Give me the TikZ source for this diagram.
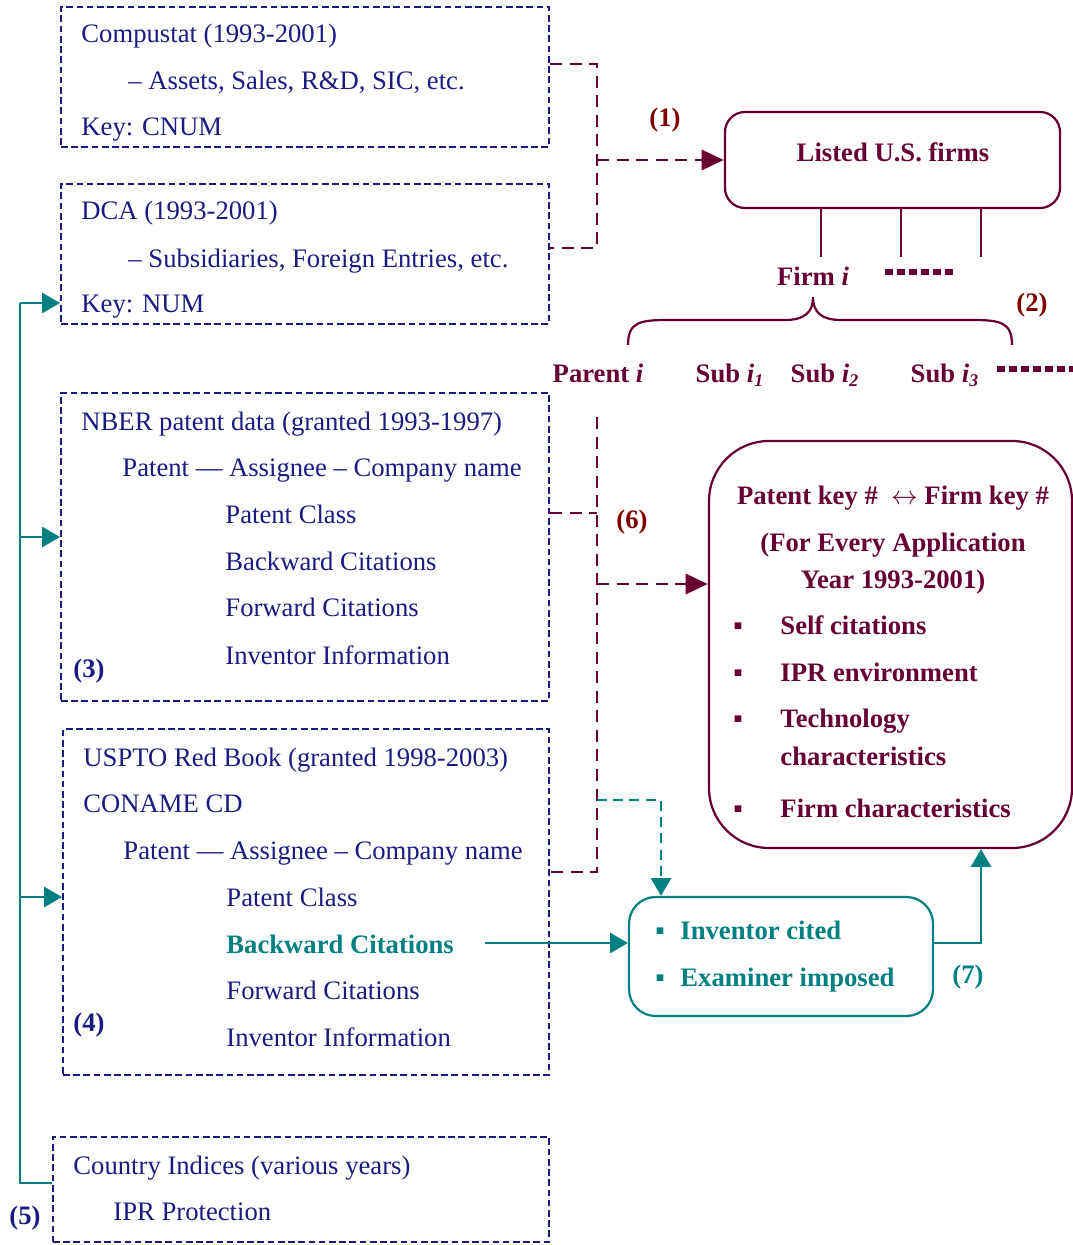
\documentclass[tikz,border=0pt]{standalone}
\usepackage{fontspec}
\setmainfont{Liberation Serif}
\usetikzlibrary{arrows.meta,fit}
\definecolor{navy}{RGB}{26,26,128}
\definecolor{wine}{RGB}{102,0,51}
\definecolor{brick}{RGB}{128,0,0}
\definecolor{sea}{RGB}{0,128,128}
\begin{document}
\begin{tikzpicture}[x=0.45pt,y=-0.45pt,
  every node/.style={font=\fontsize{12pt}{14pt}\selectfont},
  txt/.style={anchor=west,inner sep=0pt,text height=9pt,text depth=0pt,text=navy},
  lbl/.style={inner sep=0pt,text height=9pt,text depth=0pt,font=\fontsize{12pt}{14pt}\selectfont\bfseries},
  srcbox/.style={draw=navy,line width=0.9pt,dash pattern=on 3pt off 1.6pt,inner sep=0pt},
  mdash/.style={draw=wine,line width=1.3pt,dash pattern=on 5.4pt off 3.4pt},
  mline/.style={draw=wine,line width=1pt},
  tline/.style={draw=sea,line width=1.1pt},
  tdash/.style={tline,dash pattern=on 4.5pt off 2.8pt},
  mtip/.style={-{Triangle[length=10pt,width=9pt]}},
  ttip/.style={-{Triangle[length=8pt,width=9pt]}}]
\useasboundingbox (0,0) rectangle (1073,1245);

\node[srcbox,fit={(61,7) (549,147)}] (compu) {};
\node[txt] (compuA) at (81,33) {Compustat (1993-2001)};
\node[txt] (compuB) at (128,80) {– Assets, Sales, R\&D, SIC, etc.};
\node[txt] (compuC) at (81,126) {Key: CNUM};

\node[srcbox,fit={(61,184) (549,324)}] (dca) {};
\node[txt] (dcaA) at (81,210) {DCA (1993-2001)};
\node[txt] (dcaB) at (128,258) {– Subsidiaries, Foreign Entries, etc.};
\node[txt] (dcaC) at (81,303) {Key: NUM};

\node[srcbox,fit={(61,393) (549,701)}] (nber) {};
\node[txt] (nberA) at (81,420) {NBER patent data (granted 1993-1997)};
\node[txt] (nberB) at (122,466) {Patent — Assignee – Company name};
\node[txt] (nberC) at (225,513) {Patent Class};
\node[txt] (nberD) at (225,560) {Backward Citations};
\node[txt] (nberE) at (225,606) {Forward Citations};
\node[txt] (nberF) at (225,654) {Inventor Information};
\node[lbl,text=navy] (n3) at (89,667) {(3)};

\node[srcbox,fit={(63,729) (549,1075)}] (uspto) {};
\node[txt] (usptoA) at (83,756) {USPTO Red Book (granted 1998-2003)};
\node[txt] (usptoB) at (83,802) {CONAME CD};
\node[txt] (usptoC) at (123,849) {Patent — Assignee – Company name};
\node[txt] (usptoD) at (226,896) {Patent Class};
\node[txt,text=sea,font=\fontsize{12pt}{14pt}\selectfont\bfseries] (bwd) at (226,943) {Backward Citations};
\node[txt] (usptoF) at (226,989) {Forward Citations};
\node[txt] (usptoG) at (226,1036) {Inventor Information};
\node[lbl,text=navy] (n4) at (89,1021) {(4)};

\node[srcbox,fit={(53,1137) (549,1242)}] (country) {};
\node[txt] (countryA) at (73,1164) {Country Indices (various years)};
\node[txt] (countryB) at (113,1210) {IPR Protection};
\node[lbl,text=navy] (n5) at (25,1214) {(5)};

\node[draw=wine,line width=1pt,rounded corners=9pt,inner sep=0pt,fit={(725,112) (1060,208)}] (listed) {};
\node[lbl,text=wine] (listedT) at (893,152) {Listed U.S. firms};
\node[lbl,text=brick] (n1) at (665,117) {(1)};
\node[lbl,text=wine] (firm) at (813,276) {Firm \textit{i}};
\node[lbl,text=brick] (n2) at (1032,302) {(2)};
\node[lbl,text=wine] (parent) at (598,372) {Parent \textit{i}};
\node[lbl,text=wine] (sub1) at (730,372) {Sub \textit{i}\textsubscript{\textit{1}}};
\node[lbl,text=wine] (sub2) at (825,372) {Sub \textit{i}\textsubscript{\textit{2}}};
\node[lbl,text=wine] (sub3) at (945,372) {Sub \textit{i}\textsubscript{\textit{3}}};

\node[draw=wine,line width=1pt,rounded corners=27pt,inner sep=0pt,fit={(709,441) (1072,848)}] (keys) {};
\node[lbl,text=wine] (keysA) at (893,494) {Patent key \#\ \ $\leftrightarrow$ Firm key \#};
\node[lbl,text=wine] (keysB) at (893,541) {(For Every Application};
\node[lbl,text=wine] (keysC) at (893,578) {Year 1993-2001)};
\node[lbl,text=wine] (bul1) at (738,624) {▪};
\node[lbl,text=wine,anchor=west] (self) at (780,624) {Self citations};
\node[lbl,text=wine] (bul2) at (738,671) {▪};
\node[lbl,text=wine,anchor=west] (ipr) at (780,671) {IPR environment};
\node[lbl,text=wine] (bul3) at (738,717) {▪};
\node[lbl,text=wine,anchor=west] (tech) at (780,717) {Technology};
\node[lbl,text=wine,anchor=west] (techB) at (780,755) {characteristics};
\node[lbl,text=wine] (bul4) at (738,807) {▪};
\node[lbl,text=wine,anchor=west] (firmc) at (780,807) {Firm characteristics};
\node[lbl,text=brick] (n6) at (632,518) {(6)};

\node[draw=sea,line width=1pt,rounded corners=12pt,inner sep=0pt,fit={(629,897) (933,1016)}] (cites) {};
\node[lbl,text=sea] (bul5) at (660,929) {▪};
\node[lbl,text=sea,anchor=west] (invc) at (680,929) {Inventor cited};
\node[lbl,text=sea] (bul6) at (660,976) {▪};
\node[lbl,text=sea,anchor=west] (exam) at (680,976) {Examiner imposed};
\node[lbl,text=sea] (n7) at (968,973) {(7)};

\coordinate (b1) at (597,160);
\draw[mdash] (compu.east |- 0,64) -| (b1) |- (dca.east |- 0,248);
\draw[mdash,mtip] (b1) -- (listed.west);

\draw[mline] (listed.south -| 821,0) -- ++(0,48);
\draw[mline] (listed.south -| 901,0) -- ++(0,48);
\draw[mline] (listed.south -| 981,0) -- ++(0,48);
\draw[wine,line width=2.6pt,dash pattern=on 3.6pt off 1.8pt] (885,272) -- (957,272);
\draw[wine,line width=2.6pt,dash pattern=on 3.6pt off 1.8pt] (997,369) -- (1073,369);
\draw[mline] (628,345) .. controls (628,322) and (640,320) .. (668,320) -- (785,320)
  .. controls (805,320) and (813,312) .. (813,297)
  .. controls (813,312) and (821,320) .. (841,320) -- (972,320)
  .. controls (1000,320) and (1012,322) .. (1012,345);

\coordinate (top6) at (597,417);
\coordinate (mid6) at (597,513);
\coordinate (b6) at (597,584);
\coordinate (bot6) at (597,872);
\draw[mdash] (nber.east |- mid6) -- (mid6);
\draw[mdash] (top6) -- (bot6) -- (uspto.east |- bot6);
\draw[mdash,mtip] (b6) -- (b6 -| keys.west);

\coordinate (b7) at (597,800);
\coordinate (t7) at (661,800);
\draw[tdash,ttip] (b7) -- (t7) -- (t7 |- cites.north);
\draw[tline,ttip] ([xshift=14pt]bwd.east) -- (bwd -| cites.west);
\coordinate (up7) at (981,943);
\draw[tline,ttip] (cites.east |- up7) -- (up7) -- (up7 |- keys.south);

\coordinate (l0) at (20,303);
\coordinate (l5) at (20,1183);
\draw[tline] (country.west |- l5) -- (l5) -- (l0);
\draw[tline,ttip] (l0) -- (l0 -| dca.west);
\draw[tline,ttip] (20,537) -- (nber.west |- 0,537);
\draw[tline,ttip] (20,897) -- (uspto.west |- 0,897);
\end{tikzpicture}
\end{document}
